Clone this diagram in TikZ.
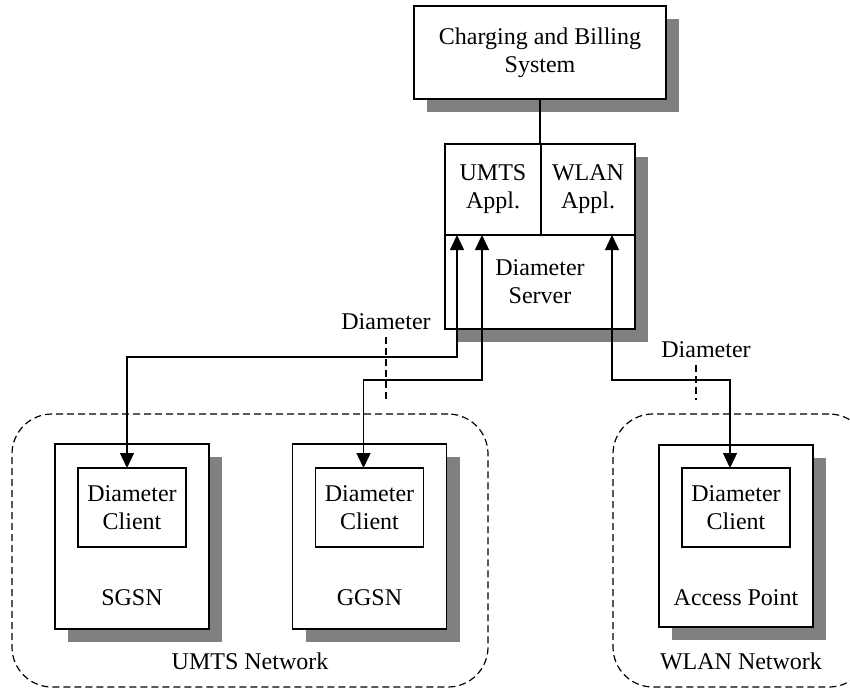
\documentclass[tikz,border=0pt]{standalone}
\usepackage{fontspec}
\setmainfont{Liberation Serif}
\usetikzlibrary{arrows.meta,positioning,shadows}

\begin{document}
\begin{tikzpicture}[
    x=1pt, y=-1pt,
    font=\fontsize{24}{28}\selectfont,
    line width=1.3pt,
    box/.style={draw, rectangle, fill=white, align=center, inner sep=0pt, outer sep=0pt},
    shadowed/.style={drop shadow={shadow xshift=13pt, shadow yshift=-13pt, fill=black!50, opacity=1}},
    device/.style={box, shadowed, minimum width=154pt, minimum height=185pt},
    client/.style={box, minimum width=108pt, minimum height=79pt},
    net/.style={draw, rectangle, rounded corners=40pt, dash pattern=on 7pt off 4pt, line width=1.2pt, minimum height=273pt},
    tag/.style={dash pattern=on 7pt off 4pt, line width=1.2pt},
    link/.style={{Triangle[length=15pt,width=14pt]}-{Triangle[length=15pt,width=14pt]}}
]
    \useasboundingbox (0,0) rectangle (850,690);

    % networks
    \node[net, minimum width=476pt] (umtsnet) at (250,550.5) {};
    \node[net, minimum width=256pt] (wlannet) at (741,550.5) {};
    \node[anchor=base] (umtslbl) at ([yshift=18pt]umtsnet.south) {UMTS Network};
    \node[anchor=base] (wlanlbl) at ([yshift=18pt]wlannet.south) {WLAN Network};

    % billing and server
    \node[box, shadowed, minimum width=252pt, minimum height=93pt] (billing) at (540,52.5) {Charging and Billing\\System};
    \node[box, shadowed, minimum width=190pt, minimum height=185pt] (srv) at (540,236.5) {};
    \node[box, minimum width=96pt, minimum height=91pt] (umtsapp) at (493,189.5) {UMTS\\Appl.};
    \node[box, minimum width=94pt, minimum height=91pt] (wlanapp) at (588,189.5) {WLAN\\Appl.};
    \node[align=center] (srvlbl) at (540,282) {Diameter\\Server};
    \draw (billing) -- (srv);

    % network elements
    \node[device] (sgsn) at (132,536.5) {};
    \node[device] (ggsn) at (369.5,536.5) {};
    \node[device, minimum height=182pt] (ap) at (736,536) {};
    \node[client, below=24pt of sgsn.north] (sgsncl) {Diameter\\Client};
    \node[client, below=24pt of ggsn.north] (ggsncl) {Diameter\\Client};
    \node[client, below=23pt of ap.north] (apcl) {Diameter\\Client};
    \node[anchor=base] (sgsnlbl) at ([yshift=24pt]sgsn.south) {SGSN};
    \node[anchor=base] (ggsnlbl) at ([yshift=24pt]ggsn.south) {GGSN};
    \node[anchor=base] (aplbl) at ([yshift=22pt]ap.south) {Access Point};

    % diameter links
    \draw[link] ([xshift=-5pt]sgsncl.north) -- ++(0,-111) -| ([xshift=-36pt]umtsapp.south);
    \draw[link] ([xshift=-6pt]ggsncl.north) -- ++(0,-88) -| ([xshift=-11pt]umtsapp.south);
    \draw[link] ([xshift=-6pt]apcl.north) -- ++(0,-88) -| ([xshift=24pt]wlanapp.south);

    \node (diam1) at (386,322) {Diameter};
    \node (diam2) at (706,350) {Diameter};
    \draw[tag] ([yshift=-3pt]diam1.south) -- ++(0,62);
    \draw[tag] ([xshift=-10pt,yshift=-3pt]diam2.south) -- ++(0,35);
\end{tikzpicture}
\end{document}
